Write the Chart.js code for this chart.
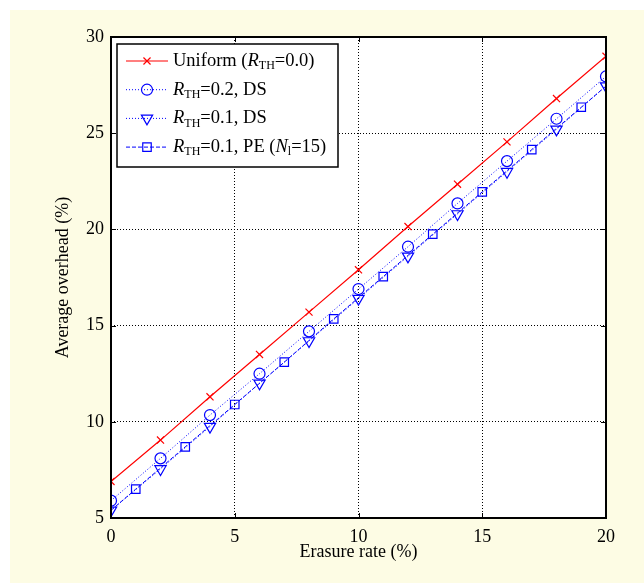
<!DOCTYPE html>
<html lang="en">
<head>
    <meta charset="UTF-8">
    <title>Average overhead vs erasure rate</title>
    <script src="https://cdn.jsdelivr.net/npm/chart.js"></script>
    <style>
        body {
            margin: 0;
            padding: 0;
            background-color: #ffffff;
        }
        canvas {
            display: block;
        }
    </style>
</head>
<body>
    <canvas id="overheadChart" width="644" height="583"></canvas>

    <script>
        // Data
        const erasureRates = [0, 2, 4, 6, 8, 10, 12, 14, 16, 18, 20];
        const uniformOverhead = [6.9, 9.05, 11.3, 13.5, 15.7, 17.9, 20.15, 22.35, 24.55, 26.8, 29.0];
        const ds02Overhead = [5.9, 8.1, 10.35, 12.5, 14.7, 16.9, 19.1, 21.35, 23.55, 25.75, 27.95];
        const ds01Overhead = [5.4, 7.55, 9.75, 12.0, 14.2, 16.4, 18.6, 20.8, 23.0, 25.2, 27.45];
        const peRates = [0, 1, 3, 5, 7, 9, 11, 13, 15, 17, 19, 20];
        const pe01Overhead = [5.4, 6.5, 8.7, 10.9, 13.1, 15.35, 17.55, 19.75, 21.95, 24.15, 26.35, 27.45];

        const xTicks = [0, 5, 10, 15, 20];
        const yTicks = [5, 10, 15, 20, 25, 30];

        // legend text: [text, style] pieces, style = '' | 'i' (italic) | 'sub'
        const legendLabels = [
            [['Uniform (', ''], ['R', 'i'], ['TH', 'sub'], ['=0.0)', '']],
            [['R', 'i'], ['TH', 'sub'], ['=0.2, DS', '']],
            [['R', 'i'], ['TH', 'sub'], ['=0.1, DS', '']],
            [['R', 'i'], ['TH', 'sub'], ['=0.1, PE (', ''], ['N', 'i'], ['l', 'sub'], ['=15)', '']]
        ];

        const toPoints = (xs, ys) => xs.map((x, i) => ({ x: x, y: ys[i] }));

        const SERIF = '"Liberation Serif", "DejaVu Serif", serif';

        // yellow page + white plot area
        const backgroundPlugin = {
            id: 'background',
            beforeDraw(chart) {
                const ctx = chart.ctx;
                const a = chart.chartArea;
                ctx.save();
                ctx.fillStyle = '#fdfce4';
                ctx.fillRect(10, 10, chart.width - 10, chart.height - 10);
                ctx.fillStyle = '#ffffff';
                ctx.fillRect(a.left, a.top, a.right - a.left, a.bottom - a.top);
                ctx.restore();
            }
        };

        // frame, inward ticks and the legend box
        const framePlugin = {
            id: 'frame',
            afterDatasetsDraw(chart) {
                const ctx = chart.ctx;
                const a = chart.chartArea;
                const xs = chart.scales.x;
                const ys = chart.scales.y;
                ctx.save();
                ctx.strokeStyle = '#000000';
                ctx.lineWidth = 1;
                ctx.beginPath();
                xTicks.forEach(v => {
                    const px = Math.round(xs.getPixelForValue(v)) + 0.5;
                    ctx.moveTo(px, a.bottom); ctx.lineTo(px, a.bottom - 5);
                    ctx.moveTo(px, a.top); ctx.lineTo(px, a.top + 5);
                });
                yTicks.forEach(v => {
                    const py = Math.round(ys.getPixelForValue(v)) + 0.5;
                    ctx.moveTo(a.left, py); ctx.lineTo(a.left + 5, py);
                    ctx.moveTo(a.right, py); ctx.lineTo(a.right - 5, py);
                });
                ctx.stroke();
                ctx.lineWidth = 2;
                ctx.strokeRect(a.left, a.top, a.right - a.left, a.bottom - a.top);

                // legend
                const lx = a.left + 6, ly = a.top + 7, lw = 221, lh = 123;
                ctx.fillStyle = '#ffffff';
                ctx.fillRect(lx, ly, lw, lh);
                ctx.lineWidth = 1.5;
                ctx.strokeRect(lx, ly, lw, lh);

                chart.data.datasets.forEach((ds, i) => {
                    const cy = ly + 17 + i * 28.7;
                    ctx.save();
                    ctx.strokeStyle = ds.borderColor;
                    ctx.lineWidth = ds.borderWidth;
                    ctx.setLineDash(ds.borderDash || []);
                    ctx.beginPath();
                    ctx.moveTo(lx + 9, cy);
                    ctx.lineTo(lx + 51, cy);
                    ctx.stroke();
                    ctx.setLineDash([]);
                    ctx.fillStyle = 'rgba(0,0,0,0)';
                    ctx.lineWidth = 1.2;
                    Chart.helpers.drawPoint(ctx, {
                        pointStyle: ds.pointStyle,
                        radius: ds.legendRadius,
                        rotation: ds.pointRotation || 0,
                        borderWidth: 1.2
                    }, lx + 30, cy);
                    ctx.restore();

                    let tx = lx + 56;
                    ctx.fillStyle = '#000000';
                    ctx.textBaseline = 'middle';
                    legendLabels[i].forEach(([txt, style]) => {
                        let font = '18.5px ' + SERIF;
                        let dy = 0;
                        if (style === 'i') font = 'italic 18.5px ' + SERIF;
                        if (style === 'sub') { font = '12px ' + SERIF; dy = 5; }
                        ctx.font = font;
                        ctx.fillText(txt, tx, cy + dy);
                        tx += ctx.measureText(txt).width;
                    });
                });
                ctx.restore();
            }
        };

        const ctx = document.getElementById('overheadChart').getContext('2d');
        const overheadChart = new Chart(ctx, {
            type: 'line',
            data: {
                datasets: [{
                    label: 'Uniform (R_TH=0.0)',
                    data: toPoints(erasureRates, uniformOverhead),
                    borderColor: '#ff0000',
                    borderWidth: 1.2,
                    pointStyle: 'crossRot',
                    pointRadius: 5,
                    legendRadius: 5,
                    pointBorderWidth: 1.2,
                    pointBorderColor: '#ff0000',
                    pointBackgroundColor: 'rgba(0,0,0,0)',
                    tension: 0
                }, {
                    label: 'R_TH=0.2, DS',
                    data: toPoints(erasureRates, ds02Overhead),
                    borderColor: '#0000ff',
                    borderWidth: 1,
                    borderDash: [1, 2],
                    pointStyle: 'circle',
                    pointRadius: 5.5,
                    legendRadius: 5.5,
                    pointBorderWidth: 1.2,
                    pointBorderColor: '#0000ff',
                    pointBackgroundColor: 'rgba(0,0,0,0)',
                    tension: 0
                }, {
                    label: 'R_TH=0.1, DS',
                    data: toPoints(erasureRates, ds01Overhead),
                    borderColor: '#0000ff',
                    borderWidth: 1,
                    borderDash: [1, 2],
                    pointStyle: 'triangle',
                    pointRotation: 180,
                    pointRadius: 6.5,
                    legendRadius: 6.5,
                    pointBorderWidth: 1.2,
                    pointBorderColor: '#0000ff',
                    pointBackgroundColor: 'rgba(0,0,0,0)',
                    tension: 0
                }, {
                    label: 'R_TH=0.1, PE (N_l=15)',
                    data: toPoints(peRates, pe01Overhead),
                    borderColor: '#0000ff',
                    borderWidth: 1,
                    borderDash: [4, 2],
                    pointStyle: 'rect',
                    // end points share the DS curve and carry no marker
                    pointRadius: c => (c.raw && c.raw.x % 2 === 1 ? 6 : 0),
                    legendRadius: 6,
                    pointBorderWidth: 1.2,
                    pointBorderColor: '#0000ff',
                    pointBackgroundColor: 'rgba(0,0,0,0)',
                    tension: 0
                }]
            },
            options: {
                responsive: false,
                animation: false,
                events: [],
                layout: {
                    padding: { left: 0, top: 37, right: 38, bottom: 0 }
                },
                plugins: {
                    legend: { display: false },
                    tooltip: { enabled: false }
                },
                scales: {
                    x: {
                        type: 'linear',
                        min: 0,
                        max: 20,
                        afterBuildTicks: s => { s.ticks = xTicks.map(v => ({ value: v })); },
                        afterFit: s => { s.height = 65; },
                        border: { display: false, dash: [1, 2] },
                        grid: {
                            color: '#000000',
                            lineWidth: 1,
                            drawTicks: false
                        },
                        ticks: {
                            padding: 8,
                            color: '#000000',
                            font: { family: SERIF, size: 18 }
                        },
                        title: {
                            display: true,
                            text: 'Erasure rate (%)',
                            color: '#000000',
                            font: { family: SERIF, size: 18 },
                            padding: { top: 0, bottom: 20 }
                        }
                    },
                    y: {
                        type: 'linear',
                        min: 5,
                        max: 30,
                        afterBuildTicks: s => { s.ticks = yTicks.map(v => ({ value: v })); },
                        afterFit: s => { s.width = 111; },
                        border: { display: false, dash: [1, 2] },
                        grid: {
                            color: '#000000',
                            lineWidth: 1,
                            drawTicks: false
                        },
                        ticks: {
                            padding: 7,
                            color: '#000000',
                            font: { family: SERIF, size: 18 }
                        },
                        title: {
                            display: true,
                            text: 'Average overhead (%)',
                            color: '#000000',
                            font: { family: SERIF, size: 18 },
                            padding: { top: 52, bottom: 0 }
                        }
                    }
                }
            },
            plugins: [backgroundPlugin, framePlugin]
        });
    </script>
</body>
</html>
